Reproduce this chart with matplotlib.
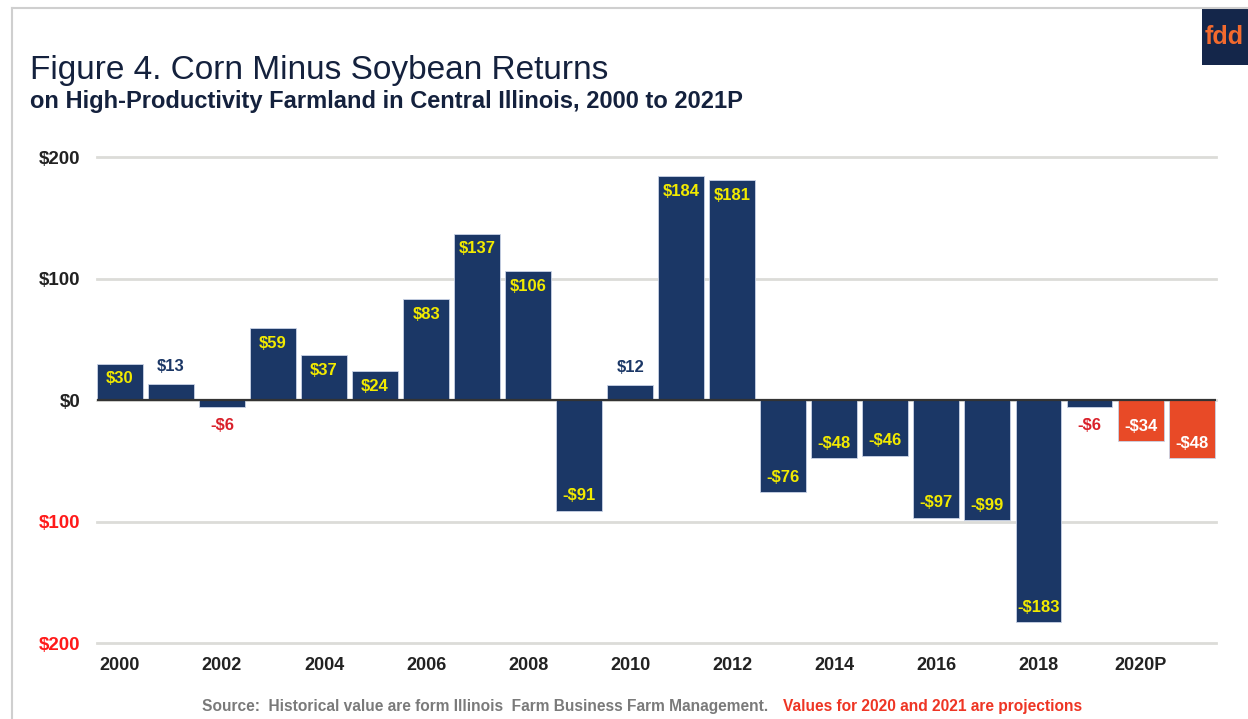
import matplotlib
matplotlib.use("Agg")
import matplotlib.pyplot as plt
from matplotlib.lines import Line2D
from matplotlib.patches import Rectangle

plt.rcParams["font.family"] = ["Liberation Sans", "DejaVu Sans"]

years = list(range(2000, 2022))
returns = [30, 13, -6, 59, 37, 24, 83, 137, 106, -91, 12,
           184, 181, -76, -48, -46, -97, -99, -183, -6, -34, -48]
projected = [2020, 2021]
tick_years = list(range(2000, 2021, 2))
tick_labels = [str(y) for y in range(2000, 2020, 2)] + ["2020P"]
y_ticks = [200, 100, 0, -100, -200]
y_tick_labels = ["$200", "$100", "$0", "$100", "$200"]

NAVY = "#1b3766"
ORANGE = "#e84a27"
YELLOW = "#f2ea00"
RED = "#d9202a"

fig = plt.figure(figsize=(12.48, 7.19), dpi=100)
ax = fig.add_axes([0.0777, 0.1057, 0.8963, 0.6759])

x = list(range(len(years)))
colors = [ORANGE if y in projected else NAVY for y in years]
ax.bar(x, returns, width=0.9, color=colors, edgecolor="#c9d3e6", linewidth=0.6, zorder=2)
ax.axhline(0, color="#333333", linewidth=1.6, zorder=3)

for xi, yr, v in zip(x, years, returns):
    txt = f"${v}" if v >= 0 else f"-${abs(v)}"
    if abs(v) < 20:
        off = 13 if v > 0 else -13
        col = NAVY if v > 0 else RED
    else:
        off = -11 if v > 0 else 11
        col = "white" if yr in projected else YELLOW
    ax.annotate(txt, (xi, v), xytext=(0, off), textcoords="offset points",
                ha="center", va="center", fontsize=12, fontweight="bold",
                color=col, zorder=4)

ax.set_ylim(-200, 200)
ax.set_xlim(-0.45, len(years) - 0.53)
ax.set_yticks(y_ticks)
ax.set_yticklabels(y_tick_labels, fontsize=13.5, fontweight="bold")
for lbl, v in zip(ax.get_yticklabels(), y_ticks):
    lbl.set_color("#ff1a1a" if v < 0 else "#222222")
ax.set_xticks([years.index(y) for y in tick_years])
ax.set_xticklabels(tick_labels, fontsize=13, fontweight="bold", color="#222222")
ax.tick_params(length=0, pad=10)
ax.tick_params(axis="y", pad=12)
ax.grid(True, axis="y", color="#dcdcd8", linewidth=2, zorder=0)
for gl in ax.yaxis.get_gridlines():
    gl.set_clip_on(False)
for s in ax.spines.values():
    s.set_visible(False)

fig.text(0.024, 0.902, "Figure 4. Corn Minus Soybean Returns", fontsize=24,
         color="#14213d", va="center")
fig.text(0.024, 0.859, "on High-Productivity Farmland in Central Illinois, 2000 to 2021P",
         fontsize=17, fontweight="bold", color="#14213d", va="center")

fig.text(0.162, 0.018, "Source:  Historical value are form Illinois  Farm Business Farm Management.",
         fontsize=11.2, fontweight="bold", color="#7a7a7a", va="center")
fig.text(0.6274, 0.018, "Values for 2020 and 2021 are projections",
         fontsize=11.2, fontweight="bold", color="#ee3524", va="center")

# frame and logo
fig.add_artist(Line2D([0.0096, 1.0], [0.989, 0.989], color="#cfcfcf", linewidth=1.5))
fig.add_artist(Line2D([0.0096, 0.0096], [0.0, 0.989], color="#cfcfcf", linewidth=1.5))
fig.add_artist(Rectangle((0.963, 0.909), 0.04, 0.08, transform=fig.transFigure,
                         facecolor="#14264a", edgecolor="none"))
fig.text(0.9655, 0.948, "fdd", fontsize=18, fontweight="bold", color="#f26a2e",
         va="center", ha="left")

fig.savefig("out.png", dpi=100)
